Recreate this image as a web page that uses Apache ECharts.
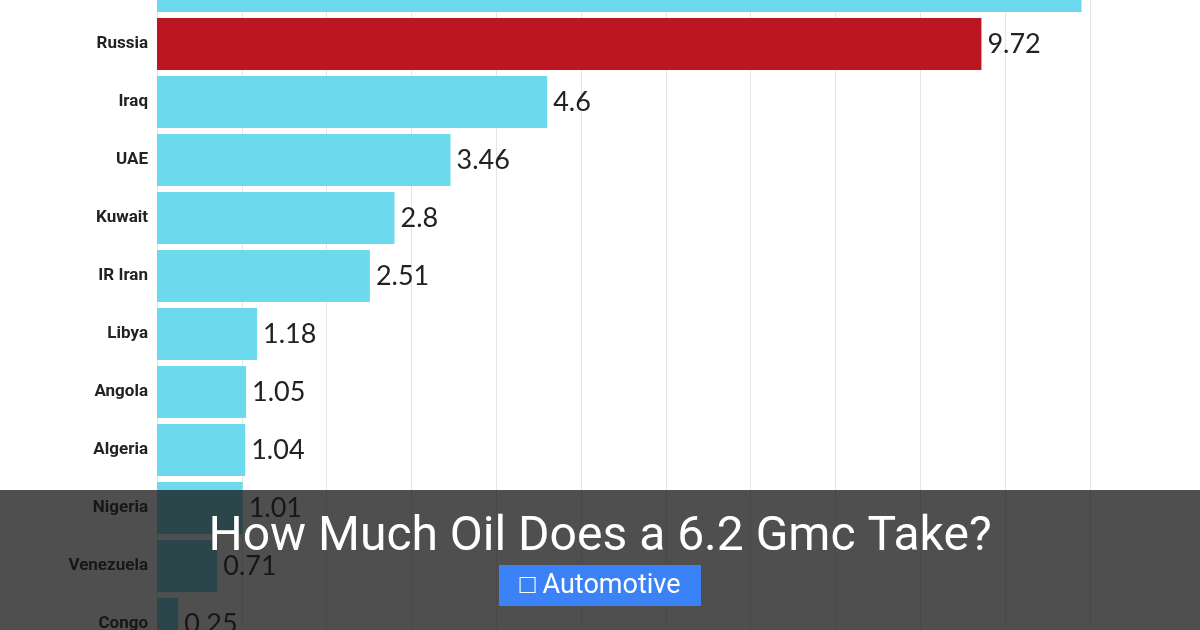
<!DOCTYPE html>
<html><head><meta charset="utf-8">
<script src="https://cdn.jsdelivr.net/npm/echarts@6/dist/echarts.min.js"></script>
<style>html,body{margin:0;padding:0;background:#fff;overflow:hidden;width:1200px;height:630px}#c{position:absolute;left:0;top:-43px;width:1200px;height:696px}</style>
</head><body><div id="c"></div>
<script>
var categories = ["Saudi Arabia","Russia","Iraq","UAE","Kuwait","IR Iran","Libya","Angola","Algeria","Nigeria","Venezuela","Congo"];
var values = [10.9,9.72,4.6,3.46,2.8,2.51,1.18,1.05,1.04,1.01,0.71,0.25];
var highlight = "Russia";
var chart = echarts.init(document.getElementById('c'));
chart.setOption({
  animation:false,
  grid:{left:157,right:110,top:0,bottom:0,containLabel:false},
  xAxis:{type:'value',min:0,max:11,interval:1,axisLabel:{show:false},axisLine:{show:false},axisTick:{show:false},
    splitLine:{lineStyle:{color:'#e6e6e6'}}},
  yAxis:{type:'category',inverse:true,data:categories,axisLine:{show:false},axisTick:{show:false},
    axisLabel:{color:'#222',fontWeight:'bold',fontSize:17,fontFamily:'Roboto',margin:9}},
  series:[{type:'bar',barWidth:52,
    data:values.map(function(v,i){return {value:v,itemStyle:{color:categories[i]===highlight?'#bb1622':'#6cd9ec'}};}),
    label:{show:true,position:'right',distance:6,color:'#222',fontSize:27,fontFamily:'Lato',letterSpacing:-1}}],
  graphic:[
    {type:'rect',shape:{x:0,y:533,width:1200,height:163},style:{fill:'rgba(20,20,20,0.75)'},z:100},
    {type:'text',x:600,y:581,style:{text:'How Much Oil Does a 6.2 Gmc Take?',fill:'#fff',font:'48px Roboto',align:'center',verticalAlign:'middle'},z:101},
    {type:'rect',shape:{x:499,y:608,width:202,height:41},style:{fill:'#3b82f6'},z:101},
    {type:'text',x:600,y:629,style:{text:'\u25A1 Automotive',fill:'#fff',font:'27px Roboto',align:'center',verticalAlign:'middle'},z:102}
  ]
});
</script></body></html>
